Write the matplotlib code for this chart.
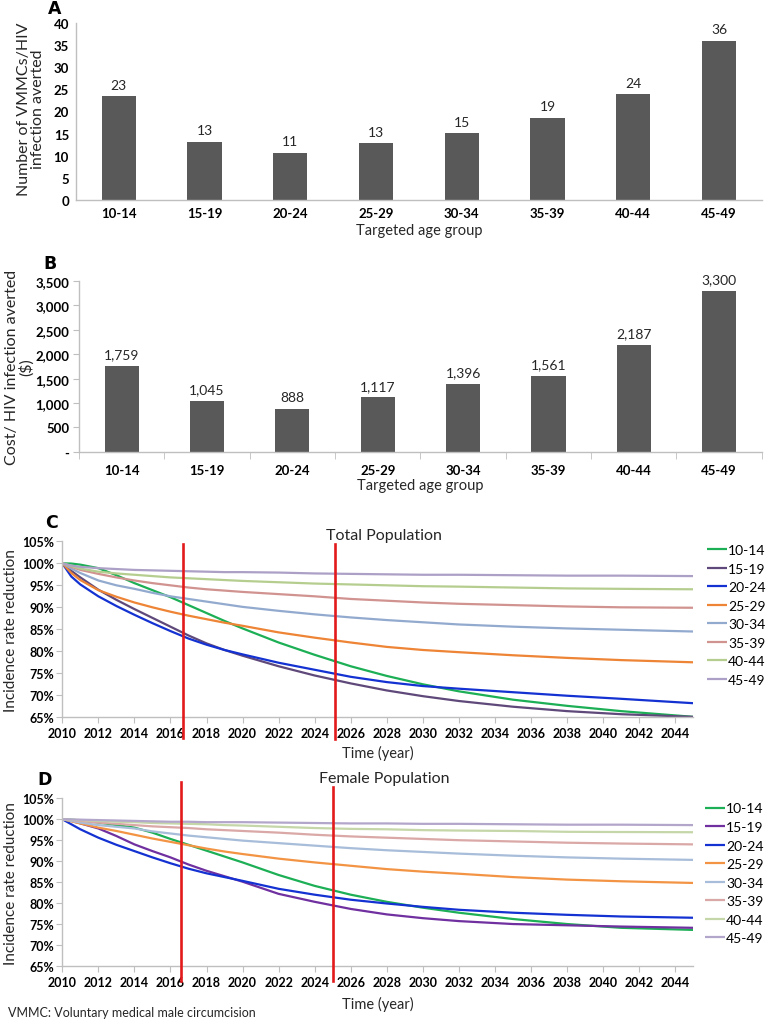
import numpy as np
import matplotlib
matplotlib.use("Agg")
import matplotlib.pyplot as plt
from matplotlib.ticker import FuncFormatter, MultipleLocator

plt.rcParams['font.family'] = ['Lato', 'DejaVu Sans']

# ---------------------------------------------------------------
# Data
# ---------------------------------------------------------------
age_groups = ["10-14", "15-19", "20-24", "25-29", "30-34", "35-39", "40-44", "45-49"]

# Panel A: number of VMMCs per HIV infection averted
vmmc_per_infection = [23.4, 13.2, 10.6, 12.8, 15.1, 18.6, 23.9, 36.0]

# Panel B: cost per HIV infection averted ($)
cost_per_infection = [1759, 1045, 888, 1117, 1396, 1561, 2187, 3300]

# Panels C/D: incidence rate reduction (%) over time
years = [2010, 2010.5, 2011, 2012, 2013, 2014, 2015, 2016, 2017, 2018, 2019, 2020,
         2022, 2024, 2026, 2028, 2030, 2032, 2035, 2038, 2041, 2045]

total_10_14 = [100, 99.95, 99.7, 98.9, 97.3, 95.5, 93.9, 92.3, 90.5, 88.7, 86.9, 85.2,
               82.0, 79.2, 76.6, 74.4, 72.5, 70.9, 69.0, 67.6, 66.4, 65.1]
total_15_19 = [100, 98.3, 96.8, 94.0, 91.7, 89.6, 87.6, 85.6, 83.6, 81.8, 80.3, 79.0,
               76.6, 74.5, 72.7, 71.1, 69.8, 68.7, 67.4, 66.4, 65.7, 65.1]
total_20_24 = [100, 97.0, 95.2, 92.5, 90.3, 88.3, 86.4, 84.6, 82.9, 81.5, 80.3, 79.3,
               77.4, 75.8, 74.2, 73.0, 72.1, 71.5, 70.7, 69.9, 69.2, 68.2]
total_25_29 = [100, 97.8, 96.2, 93.9, 92.4, 91.1, 90.0, 89.0, 88.1, 87.3, 86.5, 85.8,
               84.3, 83.1, 82.0, 81.0, 80.3, 79.8, 79.1, 78.5, 78.0, 77.5]
total_30_34 = [100, 98.8, 97.8, 96.1, 95.0, 94.2, 93.3, 92.5, 91.9, 91.3, 90.7, 90.1,
               89.2, 88.4, 87.7, 87.1, 86.6, 86.1, 85.6, 85.2, 84.9, 84.5]
total_35_39 = [100, 99.2, 98.5, 97.6, 96.8, 96.1, 95.5, 95.0, 94.5, 94.1, 93.8, 93.5,
               93.0, 92.5, 91.9, 91.5, 91.1, 90.8, 90.5, 90.2, 90.0, 89.9]
total_40_44 = [100, 99.4, 98.8, 98.1, 97.7, 97.4, 97.1, 96.8, 96.6, 96.4, 96.2, 96.0,
               95.7, 95.4, 95.2, 95.0, 94.8, 94.7, 94.5, 94.3, 94.2, 94.1]
total_45_49 = [100, 99.5, 99.2, 98.9, 98.7, 98.5, 98.4, 98.3, 98.2, 98.1, 98.0, 98.0,
               97.9, 97.7, 97.6, 97.5, 97.4, 97.4, 97.3, 97.2, 97.2, 97.1]

female_10_14 = [100, 99.9, 99.7, 99.2, 98.6, 98.0, 96.8, 95.3, 93.9, 92.5, 91.1, 89.7,
                86.7, 84.1, 82.0, 80.3, 78.9, 77.7, 76.2, 75.0, 74.1, 73.6]
female_15_19 = [100, 99.6, 99.0, 97.8, 96.0, 94.0, 92.4, 90.9, 89.2, 87.7, 86.4, 85.1,
                82.2, 80.3, 78.6, 77.3, 76.4, 75.7, 75.0, 74.7, 74.4, 74.1]
female_20_24 = [100, 98.8, 97.6, 95.6, 93.9, 92.4, 90.9, 89.5, 88.2, 87.1, 86.2, 85.3,
                83.4, 82.0, 80.8, 79.9, 79.1, 78.4, 77.7, 77.2, 76.8, 76.5]
female_25_29 = [100, 99.5, 99.0, 98.0, 97.2, 96.3, 95.4, 94.6, 93.8, 93.0, 92.3, 91.7,
                90.6, 89.7, 88.9, 88.1, 87.5, 87.0, 86.2, 85.6, 85.2, 84.8]
female_30_34 = [100, 99.6, 99.2, 98.6, 98.2, 97.8, 97.1, 96.6, 96.1, 95.7, 95.3, 94.9,
                94.3, 93.7, 93.1, 92.6, 92.2, 91.8, 91.3, 90.9, 90.6, 90.3]
female_35_39 = [100, 99.8, 99.6, 99.2, 98.9, 98.6, 98.3, 98.1, 97.9, 97.6, 97.4, 97.2,
                96.8, 96.3, 95.9, 95.6, 95.3, 95.0, 94.7, 94.4, 94.2, 94.0]
female_40_44 = [100, 99.9, 99.8, 99.6, 99.4, 99.3, 99.1, 99.0, 98.9, 98.8, 98.6, 98.5,
                98.2, 97.9, 97.7, 97.6, 97.4, 97.3, 97.2, 97.0, 96.95, 96.9]
female_45_49 = [100, 99.95, 99.9, 99.8, 99.7, 99.6, 99.5, 99.4, 99.4, 99.3, 99.3, 99.3,
                99.2, 99.1, 99.0, 99.0, 98.9, 98.9, 98.8, 98.7, 98.7, 98.6]

# red vertical markers (years)
milestones_total = [2016.7, 2025.1]
milestones_female = [2016.6, 2025.0]

# ---------------------------------------------------------------
# Styling
# ---------------------------------------------------------------
bar_color = "#595959"
axis_color = "#BFBFBF"
text_color = "#262626"
colors_total = ["#1DAF55", "#5F497A", "#1432D2", "#EE8435", "#93AACF", "#D19390", "#B5CE8F", "#ADA0C6"]
colors_female = ["#1DAF55", "#7030A0", "#1432D2", "#F39444", "#A7BDD9", "#DAA8A6", "#C5D7A8", "#B3A6CB"]


def style_spines(ax):
    for s in ["top", "right"]:
        ax.spines[s].set_visible(False)
    for s in ["left", "bottom"]:
        ax.spines[s].set_color(axis_color)
        ax.spines[s].set_linewidth(1.0)


def bar_panel(ax, values, ymax, step, labels, ytick_fmt, xlabel_y, ticks):
    x = np.arange(len(age_groups))
    bars = ax.bar(x, values, width=0.4, color=bar_color, zorder=2)
    ax.bar_label(bars, labels=labels, padding=4, fontsize=10, color=text_color)
    ax.set_xlim(-0.5, len(age_groups) - 0.5)
    ax.set_ylim(0, ymax)
    ax.yaxis.set_major_locator(MultipleLocator(step))
    ax.yaxis.set_major_formatter(FuncFormatter(ytick_fmt))
    ax.set_xticks(x)
    ax.set_xticklabels(age_groups, fontsize=9.5, fontweight="bold")
    for t in ax.get_yticklabels():
        t.set_fontweight("bold")
        t.set_fontsize(9.5)
    style_spines(ax)
    if ticks:
        ax.set_xticks(np.arange(-0.5, len(age_groups)), minor=True)
        ax.tick_params(axis="x", which="major", length=0, pad=9)
        ax.tick_params(axis="x", which="minor", length=5, color=axis_color)
        ax.tick_params(axis="y", length=4, color=axis_color, pad=3)
    else:
        ax.tick_params(axis="x", length=0, pad=5)
        ax.tick_params(axis="y", length=0, pad=5)
    ax.set_xlabel("Targeted age group", fontsize=10.5, color=text_color, va="top")
    ax.xaxis.set_label_coords(0.5, xlabel_y)


def line_panel(ax, series, colors, title, title_y, milestones, red_spans, xlabel_y, leg_anchor):
    for vals, col, lab in zip(series, colors, age_groups):
        ax.plot(years, vals, color=col, lw=1.6, label=lab, solid_capstyle="butt")
    for m, (lo, hi) in zip(milestones, red_spans):
        ax.plot([m, m], [lo, hi], color="#E31A1C", lw=1.9, clip_on=False, zorder=5)
    ax.set_xlim(2010, 2045)
    ax.set_ylim(65, 105)
    ax.set_xticks(np.arange(2010, 2045, 2))
    ax.yaxis.set_major_locator(MultipleLocator(5))
    ax.yaxis.set_major_formatter(FuncFormatter(lambda v, p: f"{v:.0f}%"))
    for t in ax.get_xticklabels() + ax.get_yticklabels():
        t.set_fontweight("bold")
        t.set_fontsize(9)
    style_spines(ax)
    ax.tick_params(axis="x", length=4, color=axis_color, pad=3)
    ax.tick_params(axis="y", length=4, color=axis_color, pad=2)
    ax.set_ylabel("Incidence rate reduction", fontsize=11, color=text_color)
    ax.yaxis.set_label_coords(-0.07, 0.5)
    ax.set_xlabel("Time (year)", fontsize=10.5, color=text_color, va="top")
    ax.xaxis.set_label_coords(0.5, xlabel_y)
    ax.text(0.51, title_y, title, transform=ax.transAxes, fontsize=11.5,
            color=text_color, ha="center", va="center")
    ax.legend(loc="upper left", bbox_to_anchor=leg_anchor, frameon=False,
              fontsize=10, handlelength=1.4, handletextpad=0.1,
              labelspacing=0.47, borderpad=0, borderaxespad=0)


fig = plt.figure(figsize=(7.69, 10.2), dpi=100)
axA = fig.add_axes([0.0988, 0.803, 0.892, 0.1735])
axB = fig.add_axes([0.1027, 0.556, 0.888, 0.1676])
axC = fig.add_axes([0.081, 0.2958, 0.8205, 0.1725])
axD = fig.add_axes([0.081, 0.052, 0.8205, 0.1644])

# Panel A
bar_panel(axA, vmmc_per_infection, 40, 5, [f"{v:.0f}" for v in vmmc_per_infection],
          lambda v, p: f"{v:.0f}", -0.13, ticks=False)
axA.set_ylabel("Number of VMMCs/HIV\ninfection averted", fontsize=11.5, color=text_color,
               linespacing=1.0)
axA.yaxis.set_label_coords(-0.045, 0.52)

# Panel B
bar_panel(axB, cost_per_infection, 3500, 500, [f"{v:,.0f}" for v in cost_per_infection],
          lambda v, p: "-" if v == 0 else f"{v:,.0f}", -0.155, ticks=True)
axB.set_ylabel("Cost/ HIV infection averted\n($)", fontsize=11.5, color=text_color,
               linespacing=1.0)
axB.yaxis.set_label_coords(-0.066, 0.5)

# Panel C
line_panel(axC, [total_10_14, total_15_19, total_20_24, total_25_29,
                 total_30_34, total_35_39, total_40_44, total_45_49],
           colors_total, "Total Population", 1.036, milestones_total,
           [(60.3, 104.4), (60.0, 104.4)], -0.16, (1.022, 0.985))

# Panel D
line_panel(axD, [female_10_14, female_15_19, female_20_24, female_25_29,
                 female_30_34, female_35_39, female_40_44, female_45_49],
           colors_female, "Female Population", 1.12, milestones_female,
           [(61.5, 108.8), (61.5, 107.8)], -0.177, (1.019, 0.975))

# Panel letters and footnote
for lab, x, y in [("A", 55, 9), ("B", 50, 264), ("C", 51, 523), ("D", 45, 780)]:
    fig.text(x / 769, 1 - y / 1020, lab, fontsize=12.5, fontweight="bold",
             ha="center", va="center", family="DejaVu Sans")
fig.text(8 / 769, 1 - 1013 / 1020, "VMMC: Voluntary medical male circumcision",
         fontsize=9, color=text_color, va="center")

plt.savefig("out.png", dpi=100)
